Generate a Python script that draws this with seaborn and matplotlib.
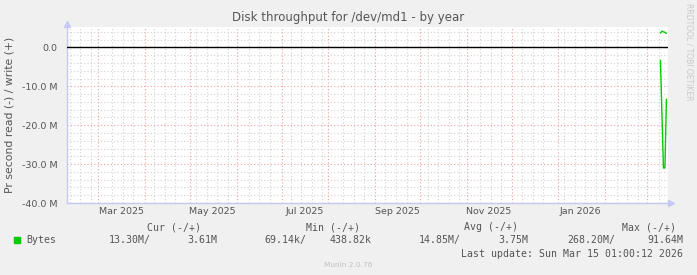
import matplotlib
matplotlib.use("Agg")
import numpy as np
import pandas as pd
import seaborn as sns
import matplotlib.pyplot as plt
import matplotlib.dates as mdates
from matplotlib.ticker import FuncFormatter, MultipleLocator, FixedLocator
from matplotlib.transforms import blended_transform_factory

# ---- data (values in M bytes/s) ----
dates = ["2026-03-10", "2026-03-11", "2026-03-12", "2026-03-13", "2026-03-14"]
read_vals = [-3.3, -17.0, -31.0, -31.0, -13.3]   # read drawn negative
write_vals = [3.7, 4.2, 4.0, 3.9, 3.61]
month_labels = ["Mar 2025", "May 2025", "Jul 2025", "Sep 2025", "Nov 2025", "Jan 2026"]
label_dates = ["2025-03-16", "2025-05-16", "2025-07-16", "2025-09-16", "2025-11-16", "2026-01-16"]
yticks = [0, -10, -20, -30, -40]
legend_headers = ["Cur (-/+)", "Min (-/+)", "Avg (-/+)", "Max (-/+)"]
legend_values = ["13.30M/", "3.61M", "69.14k/", "438.82k", "14.85M/", "3.75M", "268.20M/", "91.64M"]

df = pd.DataFrame({"date": pd.to_datetime(dates), "read": read_vals, "write": write_vals})

W, H = 697, 275
sns.set_style("white")
fig = plt.figure(figsize=(W / 100, H / 100), dpi=100, facecolor="#f0f0f0")
x0, x1, ytop, ybot = 67, 668, 27, 203
ax = fig.add_axes([x0 / W, 1 - ybot / H, (x1 - x0) / W, (ybot - ytop) / H])
ax.set_facecolor("white")

ax.axhline(0, color="black", linewidth=1.0, zorder=3)
sns.lineplot(data=df, x="date", y="read", color="#00cc00", linewidth=1.0, ax=ax, zorder=4)
sns.lineplot(data=df, x="date", y="write", color="#00cc00", linewidth=1.0, ax=ax, zorder=4)
ax.set_xlabel("")
ax.set_ylabel("")

start = pd.Timestamp("2025-02-08 01:00")
end = pd.Timestamp("2026-03-15 01:00")
ax.set_xlim(mdates.date2num(start), mdates.date2num(end))
ax.set_ylim(-40, 5.26)

# grid (set after plotting so seaborn/units don't override)
month_starts = mdates.date2num(pd.date_range("2025-03-01", "2026-03-01", freq="MS"))
mondays = mdates.date2num(pd.date_range("2025-02-10", "2026-03-14", freq="W-MON"))
mondays = [m for m in mondays if np.min(np.abs(month_starts - m)) > 3.5]
ax.xaxis.set_major_locator(FixedLocator(month_starts))
ax.xaxis.set_minor_locator(FixedLocator(mondays))
ax.xaxis.set_major_formatter(FuncFormatter(lambda v, p: ""))
ax.xaxis.set_minor_formatter(FuncFormatter(lambda v, p: ""))
ax.yaxis.set_major_locator(FixedLocator(yticks))
ax.yaxis.set_minor_locator(MultipleLocator(2))
ax.grid(which="minor", color="#d2d2d2", linestyle=(0, (1, 2)), linewidth=0.8)
ax.grid(which="major", color="#eea0a0", linestyle=(0, (1, 2)), linewidth=0.8)
ax.set_axisbelow(True)

def yfmt(v, p):
    if abs(v) < 1e-9:
        return "0.0"
    return f"{v:.1f} M".replace("\u2212", "-")
ax.yaxis.set_major_formatter(FuncFormatter(yfmt))
ax.tick_params(axis="y", which="major", labelsize=6.8, labelcolor="#555555",
               color="#c4c8f4", length=2, pad=5)
ax.tick_params(axis="y", which="minor", color="#c4c8f4", length=1.5)
ax.tick_params(axis="x", which="major", color="#eea0a0", length=2)
ax.tick_params(axis="x", which="minor", color="#c4c8f4", length=1.5)

for s in ["top", "right"]:
    ax.spines[s].set_visible(False)
for s in ["left", "bottom"]:
    ax.spines[s].set_color("#c4c8f4")
    ax.spines[s].set_linewidth(1.0)

# arrows
ax.plot([1.0 + 3 / 601], [0], marker=">", markersize=5, color="#c4c8f4",
        transform=ax.transAxes, clip_on=False)
ax.plot([0], [1.0 + 3 / 176], marker="^", markersize=5, color="#c4c8f4",
        transform=ax.transAxes, clip_on=False)

# month labels
tr = blended_transform_factory(ax.transData, ax.transAxes)
for d, lab in zip(label_dates, month_labels):
    ax.text(mdates.date2num(pd.Timestamp(d)), -0.05, lab, transform=tr, ha="center",
            va="center", fontsize=6.8, color="#555555")

# title & labels
fig.text(348 / W, 1 - 18 / H, "Disk throughput for /dev/md1 - by year", ha="center",
         va="center", fontsize=8.5, color="#555555")
fig.text(10 / W, 1 - 115 / H, "Pr second read (-) / write (+)", rotation=90, ha="center",
         va="center", fontsize=7.8, color="#555555")
fig.text(689 / W, 1 - 52 / H, "RRDTOOL / TOBI OETIKER", rotation=270, ha="center",
         va="center", fontsize=5.5, color="#c8c8c8")

# legend
mono = "DejaVu Sans Mono"
hdr_right = [201, 360, 518, 676]
for r, t in zip(hdr_right, legend_headers):
    fig.text(r / W, 1 - 227 / H, t, ha="right", va="center", fontsize=7.1,
             family=mono, color="#555555")
fig.patches.append(plt.Rectangle((14 / W, 1 - 243 / H), 6 / W, 6 / H, color="#00cc00",
                                 transform=fig.transFigure, figure=fig))
fig.text(26 / W, 1 - 240 / H, "Bytes", ha="left", va="center", fontsize=7.1,
         family=mono, color="#555555")
val_right = [151, 217, 306, 372, 461, 528, 615, 683]
for r, t in zip(val_right, legend_values):
    fig.text(r / W, 1 - 240 / H, t, ha="right", va="center", fontsize=7.1,
             family=mono, color="#555555")
fig.text(683 / W, 1 - 254 / H, "Last update: Sun Mar 15 01:00:12 2026", ha="right",
         va="center", fontsize=7.1, family=mono, color="#555555")
fig.text(348 / W, 1 - 265 / H, "Munin 2.0.76", ha="center", va="center", fontsize=5.3,
         color="#c0c0c0")

fig.savefig("out.png", dpi=100, facecolor=fig.get_facecolor())
